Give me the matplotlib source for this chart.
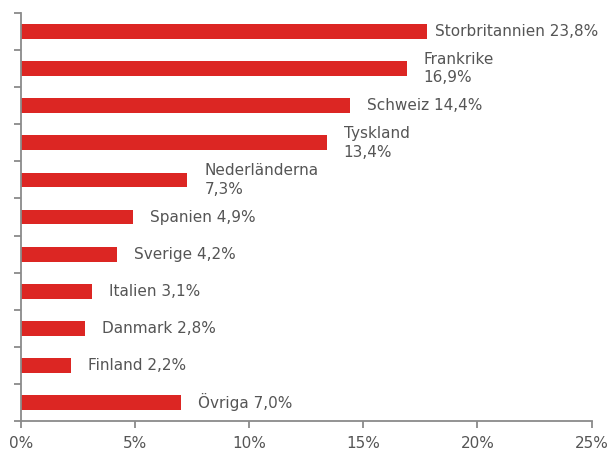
import matplotlib
matplotlib.use("Agg")
import matplotlib.pyplot as plt
from matplotlib.ticker import FuncFormatter
from matplotlib.transforms import offset_copy

countries = ["Storbritannien", "Frankrike", "Schweiz", "Tyskland", "Nederländerna",
             "Spanien", "Sverige", "Italien", "Danmark", "Finland", "Övriga"]
bar_values = [17.8, 16.9, 14.4, 13.4, 7.3, 4.9, 4.2, 3.1, 2.8, 2.2, 7.0]
label_values = ["23,8%", "16,9%", "14,4%", "13,4%", "7,3%", "4,9%", "4,2%",
                "3,1%", "2,8%", "2,2%", "7,0%"]
two_line = [False, True, False, True, True, False, False, False, False, False, False]
label_gap_px = [8, 17, 17, 17, 17, 17, 17, 17, 17, 17, 17]
x_ticks = [0, 5, 10, 15, 20, 25]

plt.rcParams['font.family'] = ['DejaVu Sans']
fig = plt.figure(figsize=(6.09, 4.5), dpi=100)
ax = fig.add_axes([0.034, 0.0644, 0.9375, 0.9067])

n = len(countries)
ypos = list(range(n))
ax.barh(ypos, bar_values, height=0.4, color="#DC2623", zorder=2)
ax.set_ylim(n - 0.5, -0.5)
ax.set_xlim(0, 25)
ax.set_xticks(x_ticks)
ax.xaxis.set_major_formatter(FuncFormatter(lambda v, p: f"{int(v)}%"))
ax.set_yticks([i - 0.5 for i in range(n + 1)])
ax.set_yticklabels([])

for i, (c, v, lab, tl, gap) in enumerate(zip(countries, bar_values, label_values, two_line, label_gap_px)):
    txt = f"{c}\n{lab}" if tl else f"{c} {lab}"
    tr = offset_copy(ax.transData, fig=fig, x=gap, y=0, units='dots')
    ax.text(v, i, txt, transform=tr, ha='left', va='center', fontsize=11,
            color='#555555', linespacing=1.3)

for s in ["top", "right"]:
    ax.spines[s].set_visible(False)
for s in ["left", "bottom"]:
    ax.spines[s].set_color("#8a8a8a")
    ax.spines[s].set_linewidth(1.3)
ax.tick_params(axis='both', direction='out', length=5, width=1.3, color='#8a8a8a',
               labelcolor='#555555', labelsize=11)
ax.tick_params(axis='x', pad=6)

fig.savefig("out.png", dpi=100)
